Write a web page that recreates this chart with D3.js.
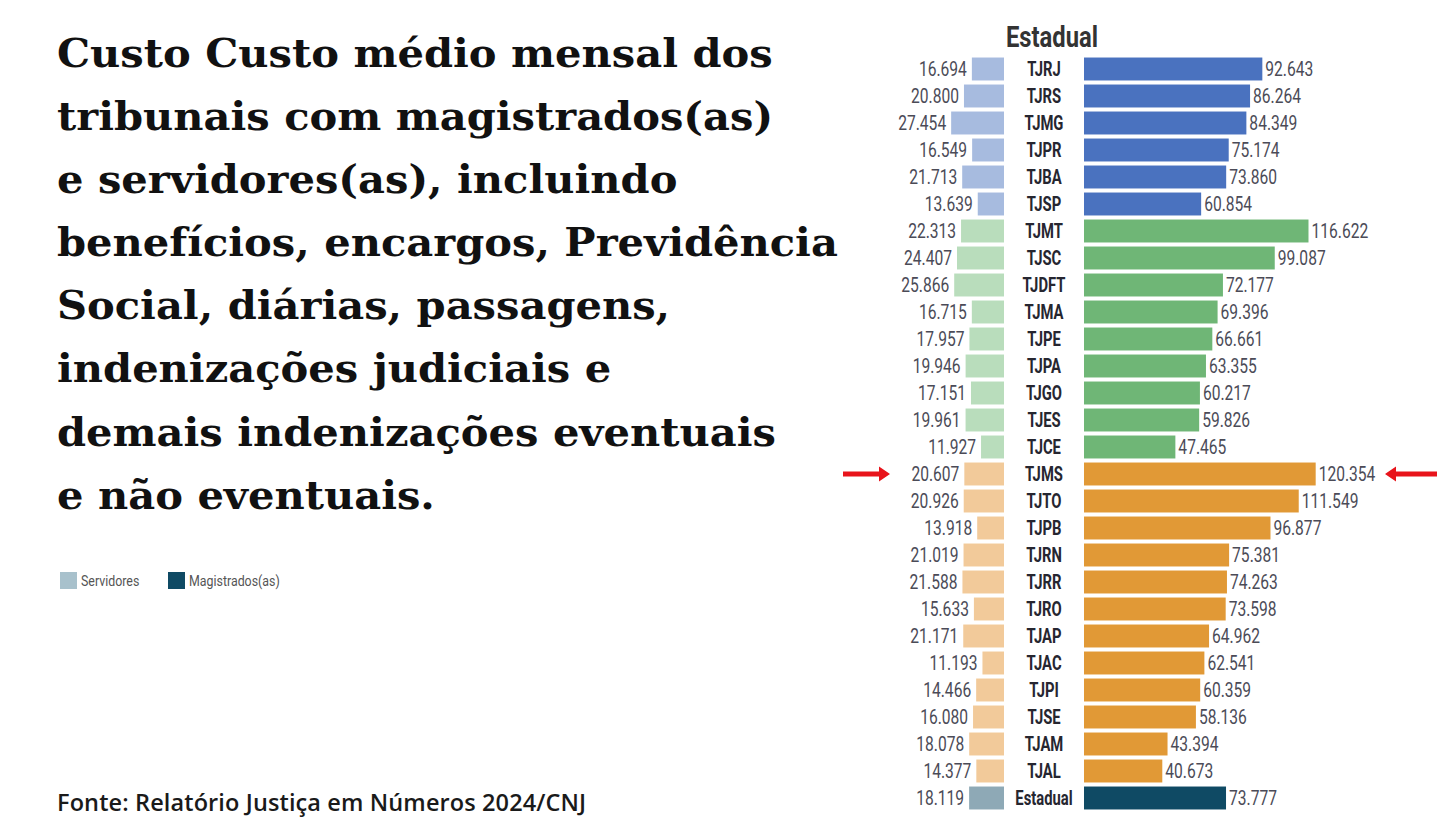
<!DOCTYPE html>
<html>
<head>
<meta charset="utf-8">
<script src="https://cdn.jsdelivr.net/npm/d3@7"></script>
<style>
  html, body { margin: 0; padding: 0; background: #fff; }
  svg { display: block; }
</style>
</head>
<body>
<svg id="chart" width="1440" height="830"></svg>
<script>
// ---------- data ----------
const tribunais = ["TJRJ","TJRS","TJMG","TJPR","TJBA","TJSP","TJMT","TJSC","TJDFT","TJMA","TJPE","TJPA","TJGO","TJES","TJCE","TJMS","TJTO","TJPB","TJRN","TJRR","TJRO","TJAP","TJAC","TJPI","TJSE","TJAM","TJAL","Estadual"];
const porte = ["Grande","Grande","Grande","Grande","Grande","Grande","Médio","Médio","Médio","Médio","Médio","Médio","Médio","Médio","Médio","Pequeno","Pequeno","Pequeno","Pequeno","Pequeno","Pequeno","Pequeno","Pequeno","Pequeno","Pequeno","Pequeno","Pequeno","Total"];
const servidores = [16694,20800,27454,16549,21713,13639,22313,24407,25866,16715,17957,19946,17151,19961,11927,20607,20926,13918,21019,21588,15633,21171,11193,14466,16080,18078,14377,18119];
const magistrados = [92643,86264,84349,75174,73860,60854,116622,99087,72177,69396,66661,63355,60217,59826,47465,120354,111549,96877,75381,74263,73598,64962,62541,60359,58136,43394,40673,73777];
const titleLines = [
  "Custo Custo médio mensal dos",
  "tribunais com magistrados(as)",
  "e servidores(as), incluindo",
  "benefícios, encargos, Previdência",
  "Social, diárias, passagens,",
  "indenizações judiciais e",
  "demais indenizações eventuais",
  "e não eventuais."
];
const legendItems = ["Servidores", "Magistrados(as)"];
const destaque = "TJMS";
const fonte = "Fonte: Relatório Justiça em Números 2024/CNJ";
const cabecalho = "Estadual";

// ---------- styles ----------
const colMag = {Grande:"#4a72bf", "Médio":"#6fb676", Pequeno:"#e19936", Total:"#0f4a64"};
const colSer = {Grande:"#a7bbdf", "Médio":"#b9ddbc", Pequeno:"#f2ca9a", Total:"#8ea9b6"};
const numColor = "#4b4b57";

const svg = d3.select("#chart");
const fmt = d3.formatLocale({decimal:",", thousands:".", grouping:[3], currency:["R$",""]}).format(",");

// ---------- title ----------
const title = svg.append("g");
const tl = title.selectAll("text").data(titleLines).join("text")
  .attr("x", 0)
  .attr("y", (d,i) => 67 + i*63.1)
  .attr("font-family", "'DejaVu Serif', 'Liberation Serif', serif")
  .attr("font-weight", "bold")
  .attr("font-size", 39)
  .attr("fill", "#111")
  .text(d => d);
{
  const w = tl.node().getComputedTextLength();
  title.attr("transform", `translate(57,0) scale(${(716 / w).toFixed(4)},1)`);
}

// ---------- scales ----------
const y = d3.scaleBand().domain(tribunais).range([55.5, 55.5 + 28*27]).paddingInner(0.15).paddingOuter(0.075);
const xR = d3.scaleLinear().domain([0, 130000]).range([1084, 1084 + 130*1.925]);
const xL = d3.scaleLinear().domain([0, 130000]).range([1004, 1004 - 130*1.925]);
const rows = tribunais.map((t,i) => ({t, p: porte[i], s: servidores[i], m: magistrados[i]}));

const SX = 0.8;
function condensed(sel, x, yv, anchor) {
  sel.attr("transform", d => `translate(${x(d)},${yv(d)}) scale(${SX},1)`)
     .attr("text-anchor", anchor);
}

// header
svg.append("text")
  .attr("transform", `translate(1052,47) scale(0.82,1)`)
  .attr("text-anchor", "middle")
  .attr("font-family", "Roboto, 'Liberation Sans', sans-serif")
  .attr("font-weight", "bold")
  .attr("font-size", 29)
  .attr("fill", "#333")
  .text(cabecalho);

svg.append("g").selectAll("rect").data(rows).join("rect")
  .attr("x", d => xL(d.s))
  .attr("y", d => y(d.t))
  .attr("width", d => xL(0) - xL(d.s))
  .attr("height", y.bandwidth())
  .attr("fill", d => colSer[d.p]);

svg.append("g").selectAll("rect").data(rows).join("rect")
  .attr("x", xR(0))
  .attr("y", d => y(d.t))
  .attr("width", d => xR(d.m) - xR(0))
  .attr("height", y.bandwidth())
  .attr("fill", d => colMag[d.p]);

const cy = d => y(d.t) + y.bandwidth()/2 + 7;

svg.append("g").selectAll("text").data(rows).join("text")
  .call(condensed, d => xL(d.s) - 5, cy, "end")
  .attr("font-family", "Roboto, 'Liberation Sans', sans-serif")
  .attr("font-size", 19.5)
  .attr("fill", numColor)
  .text(d => fmt(d.s));

svg.append("g").selectAll("text").data(rows).join("text")
  .call(condensed, d => xR(d.m) + 3, cy, "start")
  .attr("font-family", "Roboto, 'Liberation Sans', sans-serif")
  .attr("font-size", 19.5)
  .attr("fill", numColor)
  .text(d => fmt(d.m));

svg.append("g").selectAll("text").data(rows).join("text")
  .attr("transform", d => `translate(1044,${cy(d)}) scale(0.74,1)`)
  .attr("text-anchor", "middle")
  .attr("font-family", "Roboto, 'Liberation Sans', sans-serif")
  .attr("font-weight", "bold")
  .attr("font-size", 20)
  .attr("fill", "#262630")
  .text(d => d.t);

// ---------- arrows ----------
const ay = y(destaque) + y.bandwidth()/2;
const arrow = (x0, x1) => {
  const dir = Math.sign(x1 - x0);
  const headL = 11, shaftW = 5, headW = 15;
  const xb = x1 - dir*headL;
  return `M${x0},${ay - shaftW/2} L${xb},${ay - shaftW/2} L${xb},${ay - headW/2} L${x1},${ay} L${xb},${ay + headW/2} L${xb},${ay + shaftW/2} L${x0},${ay + shaftW/2} Z`;
};
svg.append("path").attr("d", arrow(843, 890)).attr("fill", "#e8141b");
svg.append("path").attr("d", arrow(1437, 1385)).attr("fill", "#e8141b");

// ---------- legend ----------
const legColors = ["#a8c1cc", colMag.Total];
const legX = [60, 168];
const leg = svg.append("g");
legendItems.forEach((name, i) => {
  leg.append("rect").attr("x", legX[i]).attr("y", 572).attr("width", 17).attr("height", 17)
    .attr("fill", legColors[i]);
  leg.append("text")
    .attr("transform", `translate(${legX[i] + 21},586) scale(0.8,1)`)
    .attr("font-family", "Roboto, 'Liberation Sans', sans-serif")
    .attr("font-size", 15.5)
    .attr("fill", "#555")
    .text(name);
});

// ---------- source ----------
const src = svg.append("text")
  .attr("x", 57).attr("y", 811)
  .attr("font-family", "'Open Sans', 'Noto Sans', sans-serif")
  .attr("font-weight", 600)
  .attr("font-size", 23.5)
  .attr("fill", "#1a1a1a")
  .text(fonte);
{
  const w = src.node().getComputedTextLength();
  src.attr("letter-spacing", ((529 - w) / (fonte.length - 1)).toFixed(2));
}
</script>
</body>
</html>
